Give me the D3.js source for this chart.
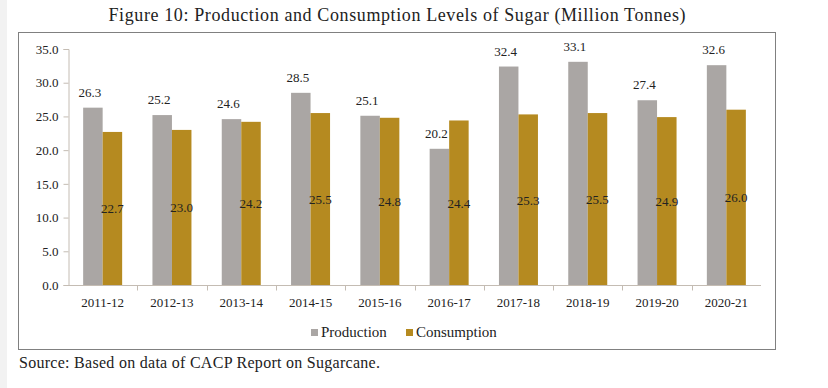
<!DOCTYPE html>
<html>
<head>
<meta charset="utf-8">
<script src="https://cdn.jsdelivr.net/npm/d3@7"></script>
<style>
  body { margin: 0; background: #fff; }
  svg { display: block; font-family: "Liberation Serif", "DejaVu Serif", serif; }
</style>
</head>
<body>
<div id="chart"></div>
<script>
// values
var years = ["2011-12", "2012-13", "2013-14", "2014-15", "2015-16", "2016-17", "2017-18", "2018-19", "2019-20", "2020-21"];
var production = [26.3, 25.2, 24.6, 28.5, 25.1, 20.2, 32.4, 33.1, 27.4, 32.6];
var consumption = [22.7, 23.0, 24.2, 25.5, 24.8, 24.4, 25.3, 25.5, 24.9, 26.0];
var yTicks = [0, 5, 10, 15, 20, 25, 30, 35];
var seriesNames = ["Production", "Consumption"];
var seriesColors = ["#aaa6a4", "#b58a20"];

var width = 828, height = 388;
var axisColor = "#c4bcb3";

var svg = d3.select("#chart")
  .append("svg")
    .attr("width", width)
    .attr("height", height);

// faint strip at the page edge
svg.append("rect").attr("x", 0).attr("y", 0).attr("width", 7).attr("height", height).attr("fill", "#f2f2f2");

svg.append("text")
  .attr("x", 397).attr("y", 21)
  .attr("text-anchor", "middle")
  .attr("font-size", 18)
  .attr("textLength", 577)
  .attr("lengthAdjust", "spacing")
  .attr("fill", "#222")
  .text("Figure 10: Production and Consumption Levels of Sugar (Million Tonnes)");

// frame
svg.append("rect")
  .attr("x", 18.5).attr("y", 32.5)
  .attr("width", 757).attr("height", 317)
  .attr("fill", "none")
  .attr("stroke", "#808080");

var x0 = d3.scaleBand().domain(years).range([68, 761]);
var x1 = d3.scaleBand().domain(seriesNames)
  .range([x0.bandwidth() / 2 - 19.5, x0.bandwidth() / 2 + 19.5]);
var y = d3.scaleLinear().domain([0, 35]).range([285, 49]);

// y axis
var yAxis = svg.append("g")
  .attr("transform", "translate(68.5,0)")
  .call(d3.axisLeft(y).tickValues(yTicks).tickFormat(d3.format(".1f")).tickSize(5).tickPadding(5));
yAxis.select(".domain").attr("stroke", axisColor);
yAxis.selectAll(".tick line").attr("stroke", axisColor);
yAxis.selectAll("text").attr("font-size", 13).attr("fill", "#222")
  .attr("font-family", "Liberation Serif, serif");

var rows = years.map(function (yr, i) {
  return { year: yr, values: [production[i], consumption[i]] };
});

var groups = svg.selectAll("g.grp")
  .data(rows)
  .enter()
    .append("g")
      .attr("class", "grp")
      .attr("transform", function (d) { return "translate(" + x0(d.year) + ",0)"; });

groups.selectAll("rect")
  .data(function (d) { return d.values.map(function (v, j) { return { s: seriesNames[j], v: v, j: j }; }); })
  .enter()
    .append("rect")
      .attr("x", function (d) { return x1(d.s); })
      .attr("y", function (d) { return y(d.v); })
      .attr("width", x1.bandwidth())
      .attr("height", function (d) { return y(0) - y(d.v); })
      .attr("fill", function (d) { return seriesColors[d.j]; });

// production labels above, consumption labels mid-bar
groups.selectAll("text.val")
  .data(function (d) { return d.values.map(function (v, j) { return { s: seriesNames[j], v: v, j: j }; }); })
  .enter()
    .append("text")
      .attr("class", "val")
      .attr("x", function (d) { return x1(d.s) + x1.bandwidth() / 2 - (d.j == 0 ? 3 : 0); })
      .attr("y", function (d) {
        if (d.j == 0) { return y(d.v) - 11; }
        return y(d.v / 2) + 5;
      })
      .attr("text-anchor", "middle")
      .attr("font-size", 13)
      .attr("fill", "#222")
      .text(function (d) { return d.v.toFixed(1); });

// x axis
var xAxis = svg.append("g").attr("transform", "translate(0,285.5)");
xAxis.append("line")
  .attr("x1", 68).attr("x2", 761)
  .attr("stroke", axisColor);
xAxis.selectAll("line.tk")
  .data(years.slice(1))
  .enter()
    .append("line")
      .attr("class", "tk")
      .attr("x1", function (d) { return Math.round(x0(d)) + 0.5; })
      .attr("x2", function (d) { return Math.round(x0(d)) + 0.5; })
      .attr("y1", 0).attr("y2", 5)
      .attr("stroke", axisColor);
xAxis.selectAll("text")
  .data(years)
  .enter()
    .append("text")
      .attr("x", function (d) { return x0(d) + x0.bandwidth() / 2; })
      .attr("y", 21)
      .attr("text-anchor", "middle")
      .attr("font-size", 13)
      .attr("fill", "#222")
      .text(function (d) { return d; });

// legend
var legendX = [311, 406];
var legend = svg.selectAll("g.leg")
  .data(seriesNames)
  .enter()
    .append("g")
      .attr("class", "leg")
      .attr("transform", function (d, i) { return "translate(" + legendX[i] + ",329)"; });
legend.append("rect")
  .attr("width", 7).attr("height", 7)
  .attr("fill", function (d, i) { return seriesColors[i]; });
legend.append("text")
  .attr("x", 10).attr("y", 8)
  .attr("font-size", 15)
  .attr("fill", "#222")
  .text(function (d) { return d; });

svg.append("text")
  .attr("x", 19).attr("y", 368)
  .attr("font-size", 16)
  .attr("textLength", 361)
  .attr("lengthAdjust", "spacing")
  .attr("fill", "#222")
  .text("Source: Based on data of CACP Report on Sugarcane.");
</script>
</body>
</html>
